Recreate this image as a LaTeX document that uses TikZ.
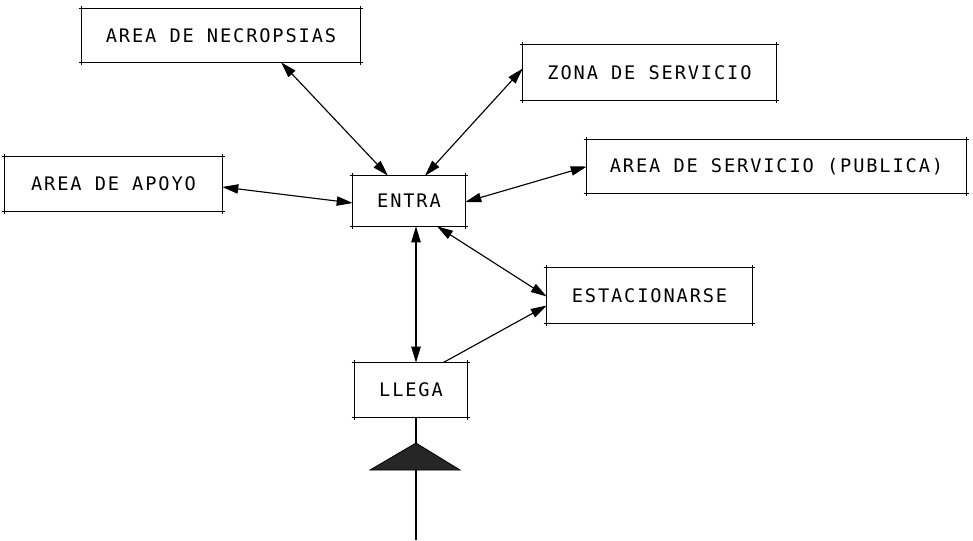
\documentclass[tikz,border=0pt]{standalone}
\usepackage{fontspec}
\newfontfamily\cadfont[LetterSpace=10]{DejaVu Sans Mono}
\usetikzlibrary{calc,arrows.meta}
\def\u{0.75pt}
\begin{document}
\begin{tikzpicture}[x=0.75pt,y=-0.75pt,
  cadbox/.style={inner sep=0pt, font=\cadfont\fontsize{14pt}{16pt}\selectfont, align=center},
  edge/.style={line width=1pt, black},
  conn/.style={line width=0.85pt, black},
  both/.style={conn, {Triangle[length=12pt,width=7pt]}-{Triangle[length=12pt,width=7pt]}},
  one/.style={conn, -{Triangle[length=12pt,width=7pt]}}
]
\fill[white] (0,0) rectangle (973,540);
\useasboundingbox (0,0) rectangle (973,540);

\node[cadbox, minimum width=278*\u, minimum height=53*\u] (nec) at (221,35.5) {AREA DE NECROPSIAS};
\node[cadbox, minimum width=253*\u, minimum height=55*\u] (zona) at (649.5,72.5) {ZONA DE SERVICIO};
\node[cadbox, minimum width=379*\u, minimum height=53*\u] (pub) at (776.5,166.5) {AREA DE SERVICIO (PUBLICA)};
\node[cadbox, minimum width=217*\u, minimum height=54*\u] (apoyo) at (113.5,184) {AREA DE APOYO};
\node[cadbox, minimum width=112*\u, minimum height=50*\u] (entra) at (409,201) {ENTRA};
\node[cadbox, minimum width=205*\u, minimum height=55*\u] (est) at (649.5,295.5) {ESTACIONARSE};
\node[cadbox, minimum width=112*\u, minimum height=54*\u] (llega) at (411,390) {LLEGA};

\foreach \n in {nec,zona,pub,apoyo,entra,est,llega}{
  \draw[edge] ($(\n.north west)+(-3,0)$) -- ($(\n.north east)+(3,0)$);
  \draw[edge] ($(\n.south west)+(-3,0)$) -- ($(\n.south east)+(3,0)$);
  \draw[edge] ($(\n.north west)+(0,-3)$) -- ($(\n.south west)+(0,3)$);
  \draw[edge] ($(\n.north east)+(0,-3)$) -- ($(\n.south east)+(0,3)$);
}

\coordinate (nb) at ($(nec.south)+(60,0)$);
\coordinate (et1) at ($(entra.north)+(-21,0)$);
\coordinate (et2) at ($(entra.north)+(16,0)$);
\coordinate (zw) at ($(zona.west)+(0,-4)$);
\coordinate (ae) at ($(apoyo.east)+(0,3)$);
\coordinate (ew) at ($(entra.west)+(0,2)$);
\coordinate (ee) at ($(entra.east)+(0,1)$);
\coordinate (pw) at (pub.west);
\coordinate (eb1) at ($(entra.south)+(7,0)$);
\coordinate (eb2) at ($(entra.south)+(28,0)$);
\coordinate (lt1) at ($(llega.north)+(5,0)$);
\coordinate (lt2) at ($(llega.north)+(32,0)$);
\coordinate (sw1) at ($(est.west)+(0,1)$);
\coordinate (sw2) at ($(est.west)+(0,10)$);
\coordinate (lb) at ($(llega.south)+(5,0)$);
\coordinate (bot) at (416,540);
\coordinate (ta) at (416,443);
\coordinate (tl) at (370,470);
\coordinate (tr) at (460,470);

\draw[both] (et1) -- (nb);
\draw[both] (et2) -- (zw);
\draw[both] (ew) -- (ae);
\draw[both] (ee) -- (pw);
\draw[both] (eb1) -- (lt1);
\draw[both] (eb2) -- (sw1);
\draw[one] (lt2) -- (sw2);

\draw[conn] (lb) -- (bot);
\filldraw[fill=black!85, draw=black, line width=0.6pt] (ta) -- (tr) -- (tl) -- cycle;
\end{tikzpicture}
\end{document}
